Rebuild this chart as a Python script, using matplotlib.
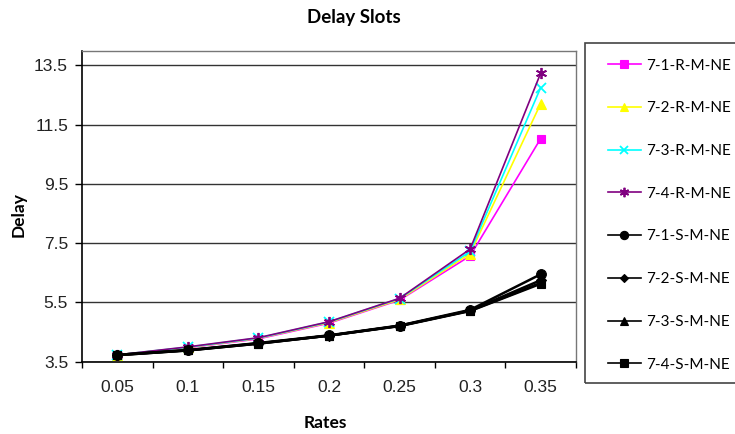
import numpy as np
import matplotlib
matplotlib.use("Agg")
import matplotlib.pyplot as plt
from matplotlib.patches import Rectangle

# data
rates = ["0.05", "0.1", "0.15", "0.2", "0.25", "0.3", "0.35"]
r1 = [3.73, 3.97, 4.27, 4.80, 5.58, 7.07, 11.03]
r2 = [3.73, 3.98, 4.29, 4.82, 5.60, 7.15, 12.21]
r3 = [3.73, 3.99, 4.30, 4.84, 5.63, 7.22, 12.75]
r4 = [3.73, 4.00, 4.31, 4.85, 5.64, 7.30, 13.24]
s1 = [3.73, 3.89, 4.13, 4.39, 4.72, 5.25, 6.45]
s2 = [3.73, 3.89, 4.12, 4.38, 4.71, 5.23, 6.25]
s3 = [3.72, 3.88, 4.11, 4.38, 4.71, 5.22, 6.16]
s4 = [3.72, 3.88, 4.11, 4.38, 4.70, 5.21, 6.13]
labels = ["7-1-R-M-NE", "7-2-R-M-NE", "7-3-R-M-NE", "7-4-R-M-NE",
          "7-1-S-M-NE", "7-2-S-M-NE", "7-3-S-M-NE", "7-4-S-M-NE"]
yticks = [3.5, 5.5, 7.5, 9.5, 11.5, 13.5]

W, H = 735, 434
fig = plt.figure(figsize=(W / 100, H / 100), dpi=100)
fig.patch.set_facecolor("white")

# plot area in pixels: left 82, right 576, top 50.5, bottom 361.7
ax = fig.add_axes([82 / W, (H - 361.7) / H, (576 - 82) / W, (361.7 - 50.5) / H])

x = np.arange(len(rates))
styles = [
    (r1, "#FF00FF", "s", 6, 1.2),
    (r2, "#FFFF00", "^", 7, 1.2),
    (r3, "#00FFFF", "x", 7, 1.2),
    (r4, "#800080", (6, 2, 0), 8, 1.2),
    (s1, "black", "o", 7, 1.8),
    (s2, "black", "D", 5, 1.8),
    (s3, "black", "^", 6, 1.8),
    (s4, "black", "s", 6, 1.8),
]
handles = []
for (vals, col, mk, ms, lw), lab in zip(styles, labels):
    h, = ax.plot(x, vals, color=col, marker=mk, markersize=ms, linewidth=lw,
                 markeredgecolor=col, markeredgewidth=1.3 if mk in ("x", (6, 2, 0)) else 0.8,
                 label=lab, zorder=3)
    handles.append(h)

ax.set_xlim(-0.5, len(rates) - 0.5)
ax.set_ylim(3.5, 14.0)
ax.set_yticks(yticks)
ax.set_yticklabels([f"{v:g}" for v in yticks], fontfamily="Liberation Sans", fontsize=12.5,
                   color="#222222")
ax.set_xticks(x)
ax.set_xticklabels(rates, fontfamily="Liberation Sans", fontsize=12.5, color="#222222")
ax.set_xticks(np.arange(len(rates) + 1) - 0.5, minor=True)
ax.tick_params(axis="x", which="major", length=0, pad=13)
ax.tick_params(axis="x", which="minor", length=4, width=1, direction="out")
ax.tick_params(axis="y", which="major", length=5, width=1, direction="out", pad=5)
ax.grid(axis="y", color="#333333", linewidth=1.0, zorder=1)
ax.set_axisbelow(True)
for side in ("top", "right"):
    ax.spines[side].set_color("#777777")
    ax.spines[side].set_linewidth(1.0)
for side in ("left", "bottom"):
    ax.spines[side].set_color("black")
    ax.spines[side].set_linewidth(1.2)

fig.text(354 / W, 1 - 18 / H, "Delay Slots", ha="center", va="center",
         fontfamily="Lato", fontweight="bold", fontsize=13.5)
fig.text(19 / W, 1 - 215 / H, "Delay", ha="center", va="center", rotation=90,
         fontfamily="Lato", fontweight="bold", fontsize=12.5)
fig.text(325 / W, 1 - 423 / H, "Rates", ha="center", va="center",
         fontfamily="Lato", fontweight="bold", fontsize=12.5)

# legend box
fig.patches.append(Rectangle((585 / W, (H - 382.7) / H), 160 / W, 340 / H,
                             transform=fig.transFigure, fill=False,
                             edgecolor="#444444", linewidth=1.2))
leg = fig.legend(handles=handles, loc="upper left", bbox_to_anchor=(603 / W, 1 - 54 / H),
                 frameon=False, prop={"family": "Lato", "size": 11},
                 handlelength=2.2, handletextpad=0.3, labelspacing=1.88,
                 borderaxespad=0, borderpad=0.3)
for lh in leg.legend_handles:
    lh.set_markersize(lh.get_markersize() * 0.85)
    lh.set_linewidth(1.2)

fig.savefig("out.png", dpi=100)
